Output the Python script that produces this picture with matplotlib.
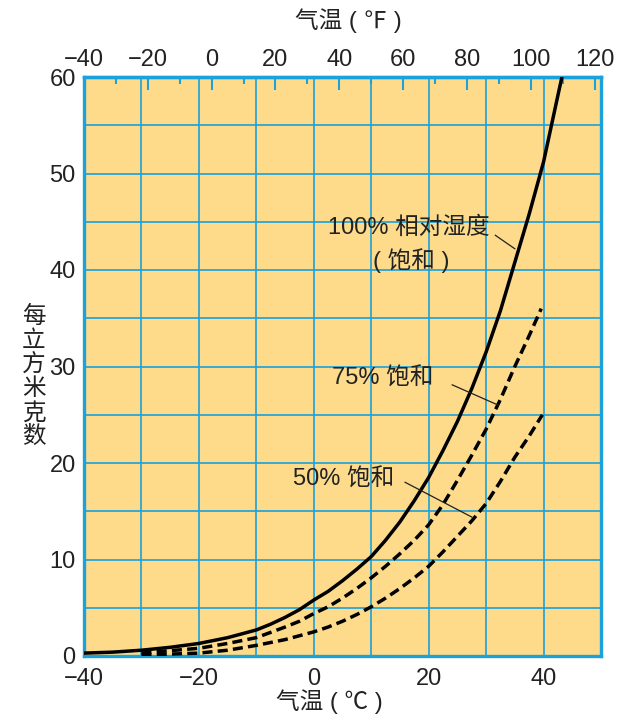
import numpy as np
import matplotlib.pyplot as plt
from matplotlib.ticker import MultipleLocator

plt.rcParams['font.family'] = ['Liberation Sans', 'Noto Sans CJK SC', 'DejaVu Sans']

#--------- Values ------------------------------
# 100% relative humidity (saturation), grams per cubic metre
temp_100 = [-40, -35, -30, -25, -20, -15, -10, -7.5, -5, -2.5, 0, 2.5, 5, 7.5, 10, 12.5, 15,
            17.5, 20, 22.5, 25, 27.5, 30, 32.5, 35, 37.5, 40, 42.5, 43.2]
water_100 = [0.3, 0.4, 0.6, 0.9, 1.3, 1.9, 2.7, 3.3, 4.0, 4.8, 5.8, 6.7, 7.8, 9.0, 10.3, 12.0, 13.9,
             16.1, 18.5, 21.3, 24.3, 27.7, 31.5, 35.8, 40.8, 45.8, 51.2, 58.1, 60.0]

# 75% of saturation
temp_75 = [-30, -25, -20, -15, -10, -5, -2.5, 0, 2.5, 5, 7.5, 10, 12.5, 15, 17.5, 20,
           22.5, 25, 27.5, 30, 32.5, 35, 37.5, 39.6]
water_75 = [0.3, 0.55, 0.8, 1.3, 1.9, 3.0, 3.6, 4.4, 5.1, 6.0, 7.0, 8.1, 9.3, 10.6, 12.0, 13.6,
            15.7, 18.2, 20.8, 23.5, 26.6, 30.0, 33.2, 36.0]

# 50% of saturation
temp_50 = [-30, -25, -20, -15, -10, -5, -2.5, 0, 2.5, 5, 7.5, 10, 12.5, 15, 17.5, 20,
           22.5, 25, 27.5, 30, 32.5, 35, 37.5, 39.8]
water_50 = [0.1, 0.2, 0.3, 0.6, 1.1, 1.7, 2.1, 2.5, 3.0, 3.6, 4.3, 5.1, 6.0, 7.0, 8.1, 9.3,
            10.8, 12.4, 14.0, 15.8, 18.1, 20.6, 22.8, 25.0]

c_ticks = [-40, -20, 0, 20, 40]
f_ticks = [-40, -20, 0, 20, 40, 60, 80, 100, 120]

BLUE = '#1ba1db'
FILL = '#fddb8b'
FS = 17

#--------- Figure -----------
fig = plt.figure(figsize=(6.41, 7.24), dpi=100)
ax = fig.add_axes([84/641, 1 - 656/724, 517/641, 579/724])
ax.set_facecolor(FILL)

ax.plot(temp_100, water_100, color='black', lw=2.5, zorder=3)
ax.plot(temp_75, water_75, color='black', lw=2.5, dashes=(2.9, 1.5), zorder=3)
ax.plot(temp_50, water_50, color='black', lw=2.5, dashes=(2.9, 1.5), zorder=3)

ax.set_xlim(-40, 50)
ax.set_ylim(0, 60)
ax.set_xticks(c_ticks)
ax.xaxis.set_minor_locator(MultipleLocator(10))
ax.yaxis.set_major_locator(MultipleLocator(10))
ax.yaxis.set_minor_locator(MultipleLocator(5))
ax.grid(True, which='both', color=BLUE, lw=1.2, zorder=1)
ax.set_axisbelow(True)
ax.tick_params(which='both', length=0, labelsize=FS, colors='#222222')
ax.tick_params(axis='x', pad=8.5)
ax.tick_params(axis='y', pad=6)
for s in ax.spines.values():
    s.set_color(BLUE)
    s.set_linewidth(2.4)

# top axis in Fahrenheit
sec = ax.secondary_xaxis('top', functions=(lambda c: c * 9 / 5 + 32, lambda f: (f - 32) * 5 / 9))
sec.set_xticks(f_ticks)
sec.xaxis.set_minor_locator(MultipleLocator(10))
sec.tick_params(which='major', direction='in', length=9, width=1.5, color=BLUE,
                labelsize=FS, labelcolor='#222222', pad=4)
sec.tick_params(which='minor', direction='in', length=5, width=1.5, color=BLUE)
sec.spines['top'].set_color(BLUE)
sec.spines['top'].set_linewidth(2.4)

fig.text(348/641, 1 - 21/724, '气温 ( ℉ )', ha='center', va='center', fontsize=FS, color='#222222')
fig.text(329/641, 1 - 702/724, '气温 ( ℃ )', ha='center', va='center', fontsize=FS, color='#222222')
fig.text(34/641, 1 - 377/724, '\n'.join('每立方米克数'), ha='center', va='center',
         fontsize=FS, linespacing=1.12, color='#222222')

#--------- Curve labels with leader lines -----------
ax.text(2.5, 44.4, '100% 相对湿度', fontsize=FS, ha='left', va='center', zorder=4, color='#222222')
ax.text(16.9, 41.0, '( 饱和 )', fontsize=FS, ha='center', va='center', zorder=4, color='#222222')
ax.plot([31.6, 35.0], [43.6, 42.2], color='#222222', lw=0.9, zorder=4)

ax.text(3.2, 28.7, '75% 饱和', fontsize=FS, ha='left', va='center', zorder=4, color='#222222')
ax.plot([24.1, 32.1], [28.1, 26.0], color='#222222', lw=0.9, zorder=4)

ax.text(-3.6, 18.3, '50% 饱和', fontsize=FS, ha='left', va='center', zorder=4, color='#222222')
ax.plot([15.9, 27.5], [18.0, 14.4], color='#222222', lw=0.9, zorder=4)

fig.savefig('out.png', dpi=100)
